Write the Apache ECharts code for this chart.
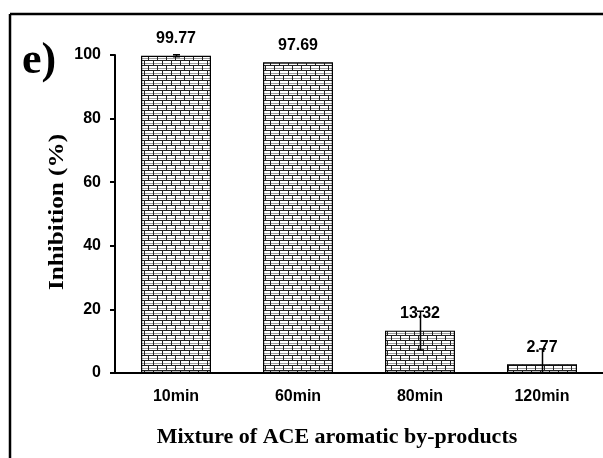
<!DOCTYPE html>
<html>
<head>
<meta charset="utf-8">
<script src="https://cdn.jsdelivr.net/npm/echarts@6/dist/echarts.min.js"></script>
<style>
html,body{margin:0;padding:0;background:#fff;}
#chart{width:603px;height:458px;}
</style>
</head>
<body>
<div id="chart"></div>
<script>
var categories = ['10min', '60min', '80min', '120min'];
var inhibition = [99.77, 97.69, 13.32, 2.77];
var errors = [0.3, 0, 6.1, 4.8];
var yTicks = [0, 20, 40, 60, 80, 100];

function brickPattern() {
  var c = document.createElement('canvas');
  c.width = 9; c.height = 10;
  var ctx = c.getContext('2d');
  ctx.fillStyle = '#ffffff';
  ctx.fillRect(0, 0, 9, 10);
  ctx.fillStyle = '#9a9a9a';
  ctx.fillRect(0, 3, 9, 1);
  ctx.fillRect(0, 8, 9, 1);
  ctx.fillStyle = '#222222';
  ctx.fillRect(0, 0, 9, 1);
  ctx.fillRect(0, 5, 9, 1);
  ctx.fillRect(0, 0, 1, 5);
  ctx.fillRect(4, 5, 1, 5);
  return c;
}

var chart = echarts.init(document.getElementById('chart'), null, {renderer: 'canvas'});
var sansBold = {fontFamily: 'Liberation Sans, Arial, sans-serif', fontWeight: 'bold', fontSize: 16, color: '#000'};
var serifBold = 'Liberation Serif, Times New Roman, serif';

var option = {
  animation: false,
  backgroundColor: '#fff',
  grid: {left: 115, right: 0, top: 55, bottom: 85, containLabel: false},
  xAxis: {
    type: 'category',
    data: categories,
    axisLine: {lineStyle: {color: '#000', width: 2}},
    axisTick: {show: false},
    axisLabel: Object.assign({margin: 16}, sansBold)
  },
  yAxis: {
    type: 'value',
    min: yTicks[0], max: yTicks[yTicks.length - 1], interval: 20,
    splitLine: {show: false},
    axisLine: {show: true, lineStyle: {color: '#000', width: 2}},
    axisTick: {show: true, length: 5, lineStyle: {color: '#000', width: 2}},
    axisLabel: Object.assign({margin: 14}, sansBold)
  },
  series: [
    {
      type: 'bar',
      data: inhibition,
      barWidth: 70,
      itemStyle: {color: {image: brickPattern(), repeat: 'repeat'}, borderColor: '#000', borderWidth: 1.2},
      label: Object.assign({show: true, position: 'top', distance: 9}, sansBold),
      z: 2
    },
    {
      type: 'custom',
      z: 5,
      data: categories.map(function (c, i) { return [i, inhibition[i], errors[i]]; }),
      renderItem: function (params, api) {
        var idx = api.value(0), v = api.value(1), e = api.value(2);
        if (!e) return null;
        var lo = Math.max(0, v - e), hi = v + e;
        var pHi = api.coord([idx, hi]);
        var pLo = api.coord([idx, lo]);
        var x = Math.round(pHi[0]) + 0.5;
        var children = [
          {type: 'line', shape: {x1: x, y1: pHi[1], x2: x, y2: pLo[1]}, style: {stroke: '#000', lineWidth: 1.5}},
          {type: 'line', shape: {x1: x - 3.5, y1: pHi[1], x2: x + 3.5, y2: pHi[1]}, style: {stroke: '#000', lineWidth: 1.5}}
        ];
        if (v - e > 0) {
          children.push({type: 'line', shape: {x1: x - 3.5, y1: pLo[1], x2: x + 3.5, y2: pLo[1]}, style: {stroke: '#000', lineWidth: 1.5}});
        }
        return {type: 'group', children: children};
      }
    }
  ],
  graphic: [
    {type: 'line', shape: {x1: 10, y1: 14, x2: 603, y2: 14}, style: {stroke: '#000', lineWidth: 2.5}},
    {type: 'line', shape: {x1: 10, y1: 14, x2: 10, y2: 458}, style: {stroke: '#000', lineWidth: 2.5}},
    {type: 'text', left: 22, top: 40, style: {text: 'e)', fontFamily: serifBold, fontWeight: 'bold', fontSize: 44, fill: '#000'}},
    {type: 'text', x: 58, y: 212, rotation: Math.PI / 2, scaleX: 1.2,
      style: {text: 'Inhibition (%)', fontFamily: serifBold, fontWeight: 'bold', fontSize: 21, fill: '#000', align: 'center', verticalAlign: 'middle'}},
    {type: 'text', x: 337, y: 437, style: {text: 'Mixture of ACE aromatic by-products', fontFamily: serifBold, fontWeight: 'bold', fontSize: 22, fill: '#000', align: 'center', verticalAlign: 'middle'}}
  ]
};
chart.setOption(option);
</script>
</body>
</html>
